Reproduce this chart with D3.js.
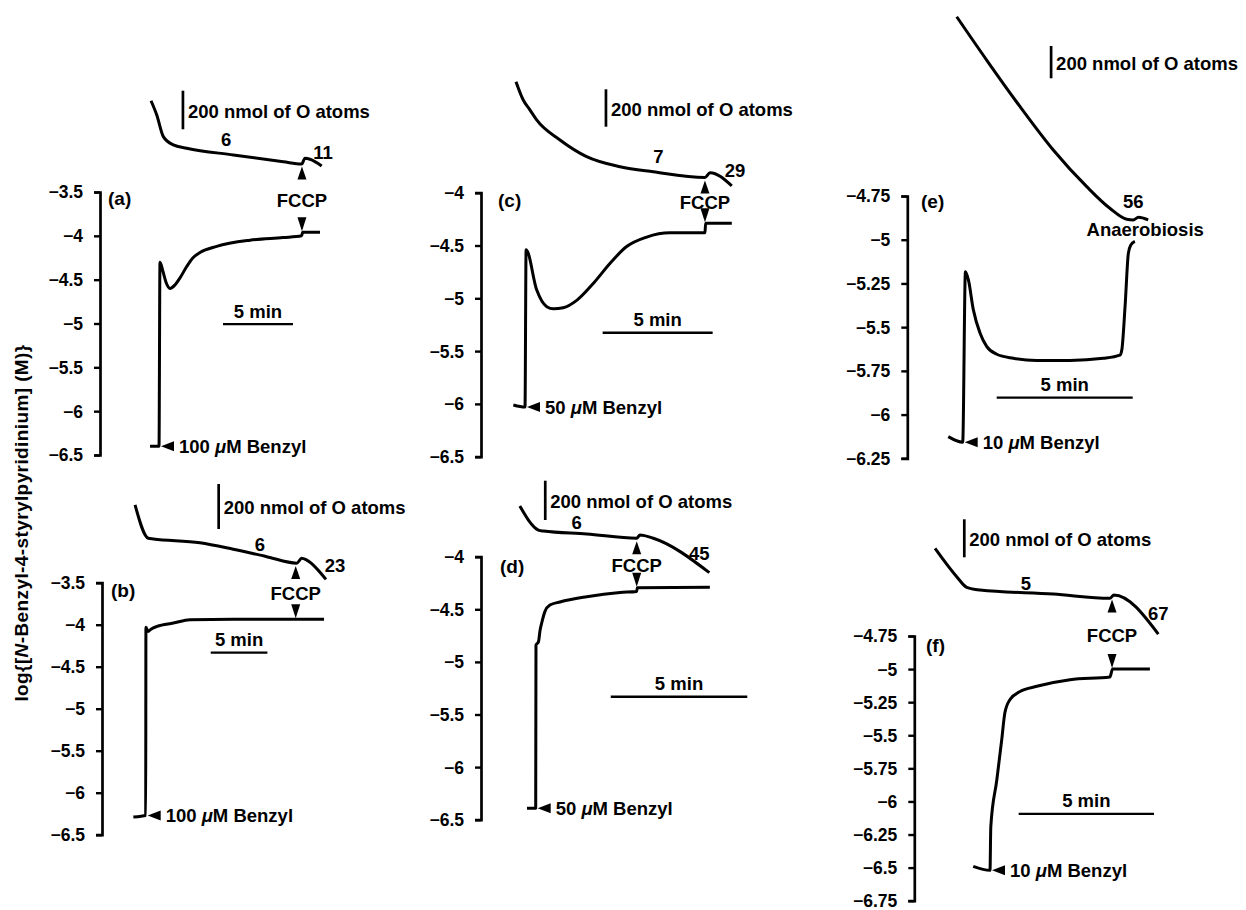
<!DOCTYPE html>
<html>
<head>
<meta charset="utf-8">
<script src="https://cdn.jsdelivr.net/npm/d3@7"></script>
<style>
  body { margin: 0; background: #fff; }
  svg { display: block; }
</style>
</head>
<body>
<svg id="fig" width="1246" height="910"></svg>
<script>
// probe traces: [time after benzyl addition (min), log[probe] (M)]
const traceA = [[-0.64,-6.40],[0,-6.40],[0.07,-4.30],[0.29,-4.41],[0.5,-4.53],[0.79,-4.60],[1.14,-4.56],[1.5,-4.48],[1.98,-4.35],[2.43,-4.25],[2.93,-4.19],[4.12,-4.12],[6.5,-4.05],[8.86,-4.02],[10.19,-4.00],[10.26,-3.96],[11.5,-3.96]]
const traceB = [[-1.09,-6.29],[-0.41,-6.28],[0,-6.27],[0.02,-4.03],[0.2,-4.08],[0.5,-4.05],[1.0,-4.02],[2.44,-3.98],[3.91,-3.94],[7.73,-3.936],[13.18,-3.936],[15.74,-3.936]]
const traceC = [[-0.53,-6.01],[0,-6.03],[0.05,-4.54],[0.53,-4.92],[0.99,-5.08],[1.29,-5.10],[1.74,-5.09],[2.35,-5.02],[3.1,-4.86],[3.86,-4.67],[4.62,-4.51],[5.53,-4.42],[6.59,-4.38],[8.18,-4.38],[8.21,-4.29],[9.4,-4.29]]
const traceD = [[-0.32,-6.39],[0,-6.39],[0.01,-4.84],[0.1,-4.81],[0.16,-4.70],[0.22,-4.63],[0.34,-4.52],[0.52,-4.46],[0.89,-4.43],[1.87,-4.38],[3.09,-4.34],[3.7,-4.33],[3.72,-4.295],[6.38,-4.29]]
const traceE = [[-0.53,-6.126],[0,-6.158],[0.1,-5.183],[0.21,-5.23],[0.39,-5.40],[0.64,-5.535],[0.88,-5.61],[1.25,-5.655],[1.86,-5.678],[2.72,-5.69],[3.94,-5.69],[5.17,-5.678],[5.78,-5.66],[5.85,-5.63],[5.97,-5.38],[6.09,-5.078],[6.18,-5.03],[6.33,-5.01]]
const traceF = [[-0.62,-6.49],[0,-6.52],[0.03,-6.19],[0.25,-5.84],[0.43,-5.54],[0.55,-5.33],[0.74,-5.23],[1.11,-5.17],[1.73,-5.13],[2.96,-5.08],[4.43,-5.06],[4.53,-5.0],[5.91,-5.0]]

// oxygen electrode traces: [time (min), O remaining (nmol of O atoms)]
const oxygenA = [[-0.57,1148],[-0.16,1074],[0.31,962],[1.02,919],[1.98,902],[5.31,867],[8.88,832],[10.19,820],[10.43,850],[10.79,845],[11.62,810]]
const oxygenB = [[-0.94,1107],[0.23,959],[0.67,956],[4.79,939],[7.73,910],[10.68,877],[13.33,848],[13.77,870],[14.21,862],[15.91,776]]
const oxygenC = [[-0.41,1241],[-0.08,1143],[0.23,1089],[0.53,1036],[1.59,929],[2.8,840],[4.32,786],[5.83,759],[8.18,729],[8.41,754],[9.4,683]]
const oxygenD = [[-0.58,1071],[0.1,949],[0.28,944],[1.87,929],[3.7,907],[3.82,924],[4.31,907],[6.36,732]]
const oxygenE = [[-0.22,1381],[0.88,1113],[2.11,824],[3.33,556],[4.56,329],[5.41,195],[6.03,127],[6.27,123],[6.46,139],[6.82,123]]
const oxygenF = [[-2.03,1047],[-1.23,898],[-0.86,842],[-0.37,828],[2.34,807],[4.43,784],[4.58,802],[6.22,596]]

// axis ticks
const ticksAB = [-3.5,-4,-4.5,-5,-5.5,-6,-6.5]
const ticksCD = [-4,-4.5,-5,-5.5,-6,-6.5]
const ticksE = [-4.75,-5,-5.25,-5.5,-5.75,-6,-6.25]
const ticksF = [-4.75,-5,-5.25,-5.5,-5.75,-6,-6.25,-6.5,-6.75]

// respiration rates (before, after FCCP), benzyl dose (uM), FCCP time (min)
const ratesA = ["6","11"], ratesB = ["6","23"], ratesC = ["7","29"]
const ratesD = ["6","45"], ratesE = ["56"], ratesF = ["5","67"]
const doses = {a: 100, b: 100, c: 50, d: 50, e: 10, f: 10}
const fccpTimes = {a: 10.21, b: 13.24, c: 8.18, d: 3.7, e: null, f: 4.51}

// where each panel sits on the page (pixels), and where annotations go (data units)
const layout = {
  a: {axisX: 100, yTop: 192, yBottom: 455, t0: 159, pxPerMin: 14, barBottom: 129.3, barLen: 38.6, oBarT: 1.71,
      label: [108, 198], minBar: [4.57, -5.007], ratePos: [[4.79, 945], [11.71, 882]]},
  b: {axisX: 102, yTop: 582.7, yBottom: 834.7, t0: 145.7, pxPerMin: 11.33, barBottom: 529, barLen: 45, oBarT: 6.44,
      label: [111, 590], minBar: [5.74, -4.333], ratePos: [[10.09, 929], [16.71, 836]]},
  c: {axisX: 481, yTop: 192.7, yBottom: 456.7, t0: 525, pxPerMin: 22, barBottom: 126.7, barLen: 37.4, oBarT: 3.68,
      label: [498, 200], minBar: [3.53, -5.326], ratePos: [[6.06, 840], [9.55, 768]]},
  d: {axisX: 481, yTop: 556.7, yBottom: 819.7, t0: 535.7, pxPerMin: 27.3, barBottom: 520, barLen: 39.3, oBarT: 0.35,
      label: [500, 566], minBar: [2.75, -5.331], ratePos: [[1.5, 985], [5.99, 831]]},
  e: {axisX: 907.3, yTop: 196, yBottom: 458.3, t0: 962.7, pxPerMin: 27.2, barBottom: 78.3, barLen: 32.3, oBarT: 3.25,
      label: [921, 201], minBar: [1.25, -5.903], ratePos: [[6.27, 236]], anaerobiosis: [6.71, 61]},
  f: {axisX: 914.3, yTop: 636, yBottom: 900.7, t0: 990, pxPerMin: 27.06, barBottom: 557.3, barLen: 38, oBarT: -0.95,
      label: [926, 645], minBar: [1.06, -6.094], ratePos: [[1.33, 863], [6.22, 705]]}
}

const panels = [
  {id: "a", trace: traceA, oxygen: oxygenA, ticks: ticksAB, rates: ratesA},
  {id: "b", trace: traceB, oxygen: oxygenB, ticks: ticksAB, rates: ratesB},
  {id: "c", trace: traceC, oxygen: oxygenC, ticks: ticksCD, rates: ratesC},
  {id: "d", trace: traceD, oxygen: oxygenD, ticks: ticksCD, rates: ratesD},
  {id: "e", trace: traceE, oxygen: oxygenE, ticks: ticksE, rates: ratesE},
  {id: "f", trace: traceF, oxygen: oxygenF, ticks: ticksF, rates: ratesF}
]

const FONT = '"Liberation Sans", Arial, Helvetica, sans-serif'
const svg = d3.select("#fig")
  .attr("font-family", FONT)
  .attr("font-weight", "bold")
  .attr("font-size", 18.5)

svg.append("rect").attr("width", 1246).attr("height", 910).attr("fill", "#fff")

const fmt = d => (d < 0 ? "\u2212" : "") + Math.abs(d)

// linear read-off of a series at time t
function valueAt(series, t) {
  const i = d3.bisector(d => d[0]).left(series, t)
  if (i <= 0) return series[0][1]
  if (i >= series.length) return series[series.length - 1][1]
  const [t0, v0] = series[i - 1], [t1, v1] = series[i]
  return v0 + (v1 - v0) * (t - t0) / (t1 - t0)
}

function drawPanel(p) {
  const L = layout[p.id]
  const x = d3.scaleLinear().domain([0, 5]).range([L.t0, L.t0 + 5 * L.pxPerMin])
  const y = d3.scaleLinear().domain(d3.extent(p.ticks).reverse()).range([L.yTop, L.yBottom])
  const yO = d3.scaleLinear().domain([1000, 1200]).range([L.barBottom, L.barBottom - L.barLen])
  const g = svg.append("g").attr("id", "panel-" + p.id)

  // axis, ticks on the outside
  const axis = g.append("g")
    .attr("transform", `translate(${L.axisX},0)`)
    .call(d3.axisLeft(y).tickValues(p.ticks).tickFormat(fmt).tickSize(6).tickPadding(11))
    .attr("font-family", FONT)
    .attr("font-size", 17.5)
  axis.select(".domain").attr("stroke-width", 2.7)
  axis.selectAll(".tick line").attr("stroke-width", 2.4)
  axis.selectAll(".tick text").attr("dy", "0.34em")

  g.append("text")
    .attr("x", L.label[0]).attr("y", L.label[1])
    .attr("dominant-baseline", "central")
    .attr("font-size", 19)
    .text(`(${p.id})`)

  // the two traces
  const line = d3.line().x(d => x(d[0])).y(d => y(d[1])).curve(d3.curveMonotoneX)
  const lineO = d3.line().x(d => x(d[0])).y(d => yO(d[1])).curve(d3.curveMonotoneX)
  g.append("path").attr("d", line(p.trace))
    .attr("fill", "none").attr("stroke", "#000").attr("stroke-width", 3).attr("stroke-linejoin", "round")
  g.append("path").attr("d", lineO(p.oxygen))
    .attr("fill", "none").attr("stroke", "#000").attr("stroke-width", 3).attr("stroke-linejoin", "round")

  // oxygen scale bar
  const bx = x(L.oBarT)
  g.append("line")
    .attr("x1", bx).attr("x2", bx).attr("y1", yO(1000)).attr("y2", yO(1200))
    .attr("stroke", "#000").attr("stroke-width", 2.7)
  g.append("text")
    .attr("x", bx + 5).attr("y", (yO(1000) + yO(1200)) / 2 + 1)
    .attr("dominant-baseline", "central")
    .text("200 nmol of O atoms")

  // time scale bar
  g.append("line")
    .attr("x1", x(L.minBar[0])).attr("x2", x(L.minBar[0] + 5))
    .attr("y1", y(L.minBar[1])).attr("y2", y(L.minBar[1]))
    .attr("stroke", "#000").attr("stroke-width", 2.4)
  g.append("text")
    .attr("x", x(L.minBar[0] + 2.5)).attr("y", y(L.minBar[1]) - 13)
    .attr("text-anchor", "middle").attr("dominant-baseline", "central")
    .text("5 min")

  // respiration rates
  p.rates.forEach((r, i) => {
    g.append("text")
      .attr("x", x(L.ratePos[i][0])).attr("y", yO(L.ratePos[i][1]))
      .attr("text-anchor", "middle").attr("dominant-baseline", "central")
      .text(r)
  })

  // FCCP arrows
  const tF = fccpTimes[p.id]
  if (tF != null) {
    const fx = x(tF)
    const upTip = yO(valueAt(p.oxygen, tF)) + 3
    const downTip = y(valueAt(p.trace, tF + 0.1)) - 1
    g.append("path")
      .attr("d", `M${fx},${upTip}L${fx + 4.5},${upTip + 13}L${fx - 4.5},${upTip + 13}Z`)
    g.append("path")
      .attr("d", `M${fx},${downTip}L${fx + 4.5},${downTip - 14}L${fx - 4.5},${downTip - 14}Z`)
    g.append("text")
      .attr("x", fx).attr("y", (upTip + 13 + downTip - 14) / 2 + 2)
      .attr("text-anchor", "middle").attr("dominant-baseline", "central")
      .text("FCCP")
  }

  if (L.anaerobiosis) {
    g.append("text")
      .attr("x", x(L.anaerobiosis[0])).attr("y", yO(L.anaerobiosis[1]))
      .attr("text-anchor", "middle").attr("dominant-baseline", "central")
      .text("Anaerobiosis")
  }

  // benzyl addition arrow
  const ax = x(0) + 2, ay = y(valueAt(p.trace, 0))
  g.append("path").attr("d", `M${ax},${ay}L${ax + 13},${ay - 5}L${ax + 13},${ay + 5}Z`)
  const bt = g.append("text")
    .attr("x", ax + 18).attr("y", ay)
    .attr("dominant-baseline", "central")
  bt.append("tspan").text(doses[p.id] + " ")
  bt.append("tspan").attr("font-style", "italic").text("\u03bc")
  bt.append("tspan").text("M Benzyl")
}

panels.forEach(drawPanel)

// shared y-axis title
const yt = svg.append("text")
  .attr("transform", "translate(21,523) rotate(-90)")
  .attr("text-anchor", "middle").attr("dominant-baseline", "central")
  .attr("font-size", 19)
  .attr("letter-spacing", 0.4)
yt.append("tspan").text("log{[")
yt.append("tspan").attr("font-style", "italic").text("N")
yt.append("tspan").text("-Benzyl-4-styrylpyridinium] (M)}")
</script>
</body>
</html>
